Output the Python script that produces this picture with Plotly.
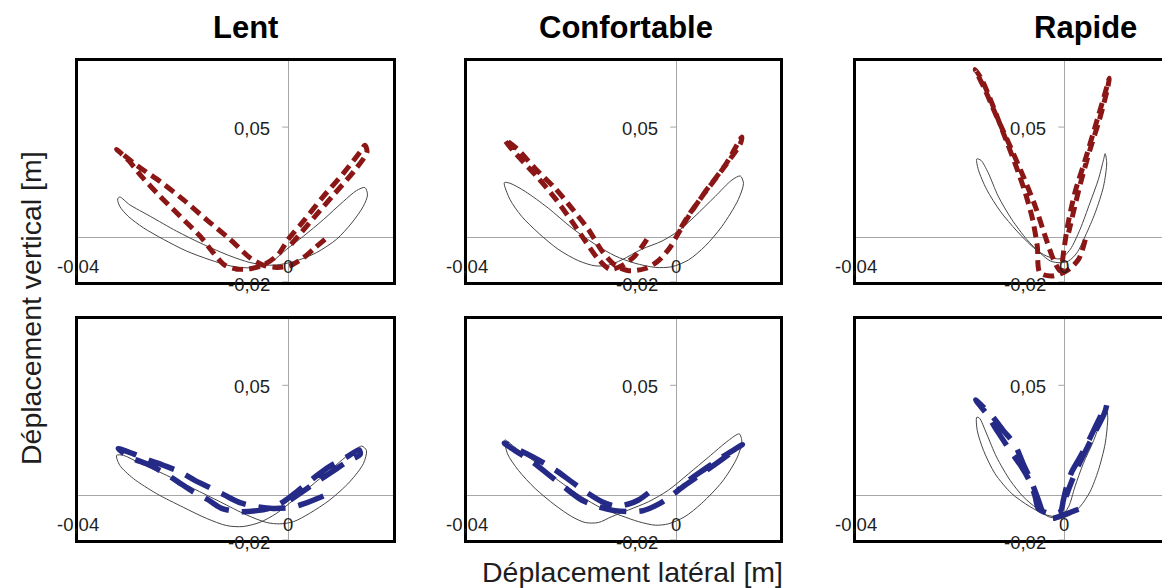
import plotly.graph_objects as go

# ---------------- data (metres) ----------------
col_titles = ["Lent", "Confortable", "Rapide"]
x_tick_labels = ["-0,04", "0"]
x_tick_vals = [-0.04, 0.0]
y_tick_labels = ["0,05", "-0,02"]
y_tick_vals = [0.05, -0.02]

# reference loops (thin black)
ref_lent_top_x = [-0.0325,-0.0321,-0.0305,-0.0276,-0.0238,-0.0194,-0.0149,-0.0111,-0.0079,-0.0051,-0.0029,-0.0003,0.0029,0.0067,0.0105,0.0130,0.0146,0.0151,0.0143,0.0121,0.0092,0.0054,0.0016,-0.0016,-0.0041,-0.0073,-0.0111,-0.0162,-0.0213,-0.0263,-0.0302,-0.0321,-0.0325]
ref_lent_top_y = [0.0175,0.0142,0.0097,0.0045,-0.0007,-0.0060,-0.0100,-0.0127,-0.0136,-0.0131,-0.0104,-0.0052,0.0007,0.0082,0.0164,0.0213,0.0227,0.0194,0.0142,0.0067,-0.0007,-0.0067,-0.0104,-0.0121,-0.0124,-0.0112,-0.0082,-0.0030,0.0030,0.0097,0.0149,0.0184,0.0175]

ref_conf_top_x = [-0.0329,-0.0318,-0.0296,-0.0264,-0.0226,-0.0187,-0.0155,-0.0130,-0.0104,-0.0066,-0.0027,0.0004,0.0036,0.0075,0.0107,0.0123,0.0129,0.0119,0.0088,0.0056,0.0024,-0.0008,-0.0040,-0.0079,-0.0117,-0.0155,-0.0200,-0.0245,-0.0289,-0.0318,-0.0329]
ref_conf_top_y = [0.0249,0.0172,0.0097,0.0022,-0.0052,-0.0104,-0.0127,-0.0124,-0.0100,-0.0052,-0.0015,0.0030,0.0097,0.0187,0.0261,0.0279,0.0246,0.0172,0.0052,-0.0037,-0.0100,-0.0131,-0.0134,-0.0115,-0.0082,-0.0030,0.0045,0.0134,0.0209,0.0246,0.0249]

ref_rap_top_x = [-0.0168,-0.0165,-0.0149,-0.0123,-0.0091,-0.0059,-0.0034,-0.0008,0.0011,0.0030,0.0049,0.0065,0.0075,0.0078,0.0081,0.0075,0.0059,0.0040,0.0024,0.0008,-0.0008,-0.0027,-0.0047,-0.0072,-0.0101,-0.0127,-0.0146,-0.0160,-0.0168]
ref_rap_top_y = [0.0356,0.0308,0.0218,0.0120,0.0030,-0.0045,-0.0083,-0.0095,-0.0053,0.0038,0.0158,0.0263,0.0353,0.0380,0.0338,0.0233,0.0113,0.0008,-0.0068,-0.0105,-0.0113,-0.0105,-0.0068,-0.0008,0.0083,0.0188,0.0293,0.0350,0.0356]

ref_lent_bot_x = [-0.0327,-0.0321,-0.0295,-0.0251,-0.0200,-0.0156,-0.0117,-0.0086,-0.0054,-0.0022,0.0010,0.0041,0.0079,0.0117,0.0140,0.0149,0.0143,0.0117,0.0079,0.0041,0.0010,-0.0016,-0.0041,-0.0079,-0.0130,-0.0181,-0.0232,-0.0283,-0.0314,-0.0327]
ref_lent_bot_y = [0.0183,0.0138,0.0078,0.0010,-0.0052,-0.0102,-0.0135,-0.0139,-0.0120,-0.0079,-0.0019,0.0040,0.0115,0.0190,0.0225,0.0205,0.0145,0.0063,-0.0019,-0.0079,-0.0117,-0.0127,-0.0121,-0.0087,-0.0027,0.0033,0.0093,0.0148,0.0183,0.0183]

ref_conf_bot_x = [-0.0328,-0.0323,-0.0302,-0.0270,-0.0232,-0.0200,-0.0174,-0.0149,-0.0123,-0.0091,-0.0053,-0.0015,0.0024,0.0062,0.0100,0.0121,0.0126,0.0116,0.0088,0.0049,0.0017,-0.0015,-0.0040,-0.0072,-0.0104,-0.0142,-0.0181,-0.0226,-0.0270,-0.0309,-0.0325,-0.0328]
ref_conf_bot_y = [0.0253,0.0190,0.0115,0.0033,-0.0042,-0.0094,-0.0121,-0.0121,-0.0094,-0.0064,-0.0027,0.0025,0.0100,0.0175,0.0250,0.0280,0.0243,0.0168,0.0063,-0.0034,-0.0094,-0.0127,-0.0133,-0.0117,-0.0091,-0.0057,-0.0004,0.0070,0.0153,0.0220,0.0250,0.0253]

ref_rap_bot_x = [-0.0168,-0.0167,-0.0155,-0.0133,-0.0101,-0.0066,-0.0034,-0.0008,0.0008,0.0020,0.0036,0.0056,0.0072,0.0080,0.0083,0.0078,0.0065,0.0049,0.0030,0.0011,-0.0008,-0.0031,-0.0053,-0.0079,-0.0104,-0.0130,-0.0149,-0.0163,-0.0168]
ref_rap_bot_y = [0.0355,0.0295,0.0205,0.0100,0.0010,-0.0049,-0.0087,-0.0094,-0.0049,0.0040,0.0145,0.0250,0.0355,0.0407,0.0355,0.0235,0.0115,0.0018,-0.0049,-0.0087,-0.0102,-0.0094,-0.0057,-0.0004,0.0070,0.0175,0.0280,0.0352,0.0355]

# condition trajectories, top row (dark red, short dashes)
lent_top_x = [0.0070,0.0051,0.0029,0.0003,-0.0022,-0.0048,-0.0073,-0.0111,-0.0156,-0.0200,-0.0244,-0.0289,-0.0321,-0.0327,-0.0305,-0.0279,-0.0244,-0.0206,-0.0168,-0.0143,-0.0121,-0.0098,-0.0070,-0.0044,-0.0019,0.0000,0.0029,0.0067,0.0105,0.0137,0.0146,0.0150,0.0127,0.0089,0.0051,0.0019,0.0003]
lent_top_y = [-0.0007,-0.0045,-0.0090,-0.0127,-0.0134,-0.0124,-0.0090,-0.0007,0.0082,0.0172,0.0254,0.0328,0.0388,0.0399,0.0351,0.0276,0.0187,0.0097,0.0007,-0.0067,-0.0124,-0.0142,-0.0139,-0.0119,-0.0075,-0.0007,0.0075,0.0187,0.0291,0.0388,0.0418,0.0388,0.0306,0.0201,0.0097,0.0007,-0.0037]

conf_top_x = [-0.0056,-0.0079,-0.0104,-0.0127,-0.0149,-0.0174,-0.0200,-0.0232,-0.0264,-0.0296,-0.0321,-0.0328,-0.0305,-0.0270,-0.0232,-0.0200,-0.0168,-0.0142,-0.0117,-0.0091,-0.0059,-0.0034,-0.0012,0.0003,0.0024,0.0056,0.0094,0.0126,0.0123,0.0088,0.0052,0.0027,0.0011,0.0001]
conf_top_y = [-0.0007,-0.0082,-0.0127,-0.0142,-0.0097,-0.0015,0.0075,0.0179,0.0269,0.0351,0.0418,0.0443,0.0403,0.0313,0.0224,0.0134,0.0037,-0.0060,-0.0124,-0.0149,-0.0139,-0.0104,-0.0045,0.0015,0.0097,0.0209,0.0328,0.0455,0.0425,0.0306,0.0194,0.0112,0.0052,0.0007]

rap_top_x = [0.0040,0.0027,0.0004,-0.0024,-0.0047,-0.0052,-0.0061,-0.0075,-0.0095,-0.0117,-0.0139,-0.0158,-0.0171,-0.0152,-0.0130,-0.0104,-0.0079,-0.0056,-0.0037,-0.0021,-0.0008,-0.0001,0.0006,0.0020,0.0040,0.0059,0.0076,0.0086,0.0082,0.0067,0.0049,0.0031,0.0017,0.0008]
rap_top_y = [-0.0008,-0.0098,-0.0150,-0.0173,-0.0158,-0.0038,0.0083,0.0203,0.0338,0.0473,0.0608,0.0713,0.0761,0.0668,0.0548,0.0413,0.0278,0.0143,0.0008,-0.0098,-0.0150,-0.0053,0.0053,0.0203,0.0353,0.0503,0.0638,0.0721,0.0668,0.0533,0.0398,0.0248,0.0113,0.0023]

# condition trajectories, bottom row (navy, long dashes)
lent_bot_x = [0.0067,0.0029,0.0006,-0.0029,-0.0060,-0.0092,-0.0121,-0.0149,-0.0178,-0.0206,-0.0238,-0.0267,-0.0295,-0.0324,-0.0302,-0.0263,-0.0232,-0.0210,-0.0181,-0.0152,-0.0127,-0.0092,-0.0060,-0.0029,-0.0006,0.0016,0.0051,0.0079,0.0111,0.0135,0.0137,0.0111,0.0083,0.0054,0.0029,0.0004]
lent_bot_y = [-0.0001,-0.0037,-0.0052,-0.0057,-0.0049,-0.0031,0.0003,0.0037,0.0070,0.0108,0.0138,0.0163,0.0190,0.0213,0.0175,0.0138,0.0097,0.0063,0.0018,-0.0019,-0.0057,-0.0072,-0.0067,-0.0052,-0.0022,0.0018,0.0085,0.0133,0.0175,0.0208,0.0187,0.0153,0.0108,0.0063,0.0022,-0.0019]

conf_bot_x = [-0.0053,-0.0072,-0.0091,-0.0117,-0.0142,-0.0168,-0.0200,-0.0232,-0.0264,-0.0296,-0.0329,-0.0309,-0.0277,-0.0245,-0.0213,-0.0181,-0.0149,-0.0117,-0.0085,-0.0063,-0.0031,-0.0008,0.0017,0.0049,0.0081,0.0107,0.0127,0.0119,0.0088,0.0056,0.0024,0.0001]
conf_bot_y = [0.0013,-0.0019,-0.0037,-0.0046,-0.0027,0.0010,0.0063,0.0118,0.0163,0.0202,0.0238,0.0205,0.0157,0.0097,0.0037,-0.0019,-0.0049,-0.0067,-0.0072,-0.0067,-0.0034,0.0003,0.0048,0.0100,0.0153,0.0198,0.0232,0.0220,0.0175,0.0123,0.0070,0.0018]

rap_bot_x = [0.0027,0.0001,-0.0024,-0.0040,-0.0050,-0.0063,-0.0079,-0.0095,-0.0117,-0.0139,-0.0158,-0.0170,-0.0149,-0.0127,-0.0104,-0.0082,-0.0066,-0.0056,-0.0050,-0.0031,-0.0008,-0.0002,0.0004,0.0014,0.0030,0.0048,0.0065,0.0081,0.0076,0.0060,0.0041,0.0024,0.0011,0.0003]
rap_bot_y = [-0.0061,-0.0084,-0.0102,-0.0079,-0.0019,0.0063,0.0145,0.0232,0.0295,0.0362,0.0407,0.0434,0.0370,0.0287,0.0205,0.0130,0.0063,-0.0004,-0.0057,-0.0079,-0.0072,-0.0019,0.0040,0.0108,0.0175,0.0257,0.0340,0.0412,0.0370,0.0295,0.0205,0.0123,0.0048,-0.0004]

# ---------------- layout ----------------
W, H = 1162, 588
FONT = "Liberation Sans, Arial, sans-serif"
RED = "rgb(139,22,22)"
BLUE = "rgb(38,42,135)"
REFC = "rgb(70,70,70)"

col_px = [(78.3, 392.7), (467.3, 780.0), (855.7, 1162.0)]
row_px = [(60.7, 282.0), (319.0, 540.0)]
x_ranges = [[-0.04, 0.0199], [-0.04, 0.0199], [-0.04, 0.0187]]
y_range = [-0.02, 0.08]

panels = [
    (ref_lent_top_x, ref_lent_top_y, lent_top_x, lent_top_y),
    (ref_conf_top_x, ref_conf_top_y, conf_top_x, conf_top_y),
    (ref_rap_top_x, ref_rap_top_y, rap_top_x, rap_top_y),
    (ref_lent_bot_x, ref_lent_bot_y, lent_bot_x, lent_bot_y),
    (ref_conf_bot_x, ref_conf_bot_y, conf_bot_x, conf_bot_y),
    (ref_rap_bot_x, ref_rap_bot_y, rap_bot_x, rap_bot_y),
]

fig = go.Figure()
annotations = []
shapes = []
layout_axes = {}

for k, (rx, ry, cx, cy) in enumerate(panels):
    r, c = divmod(k, 3)
    sfx = "" if k == 0 else str(k + 1)
    xa, ya = "x" + sfx, "y" + sfx
    top = r == 0
    fig.add_trace(go.Scatter(x=rx, y=ry, xaxis=xa, yaxis=ya, mode="lines",
                             line=dict(color=REFC, width=1, shape="spline", smoothing=0.8),
                             showlegend=False, hoverinfo="skip"))
    fig.add_trace(go.Scatter(x=cx, y=cy, xaxis=xa, yaxis=ya, mode="lines",
                             line=dict(color=RED if top else BLUE, width=5 if top else 5.5,
                                       dash="11px,6px" if top else "27px,13px",
                                       shape="spline", smoothing=0.8),
                             showlegend=False, hoverinfo="skip"))
    x0p, x1p = col_px[c]
    y0p, y1p = row_px[r]
    last_col = c == 2
    layout_axes["xaxis" + sfx] = dict(
        domain=[x0p / W, x1p / W], anchor=ya, range=x_ranges[c],
        showgrid=False, showticklabels=False, ticks="",
        zeroline=True, zerolinecolor="#a6a6a6", zerolinewidth=1,
        showline=True, mirror=True, linecolor="black", linewidth=3)
    layout_axes["yaxis" + sfx] = dict(
        domain=[1 - y1p / H, 1 - y0p / H], anchor=xa, range=y_range,
        showgrid=False, showticklabels=False, ticks="",
        zeroline=True, zerolinecolor="#a6a6a6", zerolinewidth=1,
        showline=True, mirror=not last_col, linecolor="black", linewidth=3)

    tfont = dict(family=FONT, size=18.5, color="#1e1e1e")
    # y tick labels next to the vertical zero axis
    for val, lab in zip(y_tick_vals, y_tick_labels):
        annotations.append(dict(x=0, y=val, xref=xa, yref=ya, text=lab, showarrow=False,
                                xanchor="right", yanchor="middle", xshift=-16,
                                yshift=-2 if val < 0 else -1, font=tfont))
        shapes.append(dict(type="line", xref=xa, yref=ya, xsizemode="pixel", xanchor=0,
                           x0=-6, x1=0, y0=val, y1=val, line=dict(color="#a6a6a6", width=1)))
    # x tick labels below the horizontal zero axis
    for val, lab in zip(x_tick_vals, x_tick_labels):
        annotations.append(dict(x=val, y=0, xref=xa, yref=ya, text=lab, showarrow=False,
                                xanchor="center", yanchor="middle", yshift=-29, font=tfont))

# column titles
title_x = [245, 626, 1085]
for t, xp in zip(col_titles, title_x):
    annotations.append(dict(x=xp / W, y=1 - 27.5 / H, xref="paper", yref="paper", text="<b>" + t + "</b>",
                            showarrow=False, xanchor="center", yanchor="middle",
                            font=dict(family=FONT, size=31, color="black")))

annotations.append(dict(x=31 / W, y=1 - 308 / H, xref="paper", yref="paper",
                        text="Déplacement vertical [m]", textangle=-90, showarrow=False,
                        xanchor="center", yanchor="middle",
                        font=dict(family=FONT, size=28.5, color="#1e1e1e")))
annotations.append(dict(x=632 / W, y=1 - 572 / H, xref="paper", yref="paper",
                        text="Déplacement latéral [m]", showarrow=False,
                        xanchor="center", yanchor="middle",
                        font=dict(family=FONT, size=28.5, color="#1e1e1e")))

fig.update_layout(width=W, height=H, margin=dict(l=0, r=0, t=0, b=0),
                  paper_bgcolor="white", plot_bgcolor="white",
                  annotations=annotations, shapes=shapes, **layout_axes)

# remove the browser's default 8px page margin so the figure sits at the window origin
fig.write_html("out.html", config={"displayModeBar": False},
               post_script="document.body.style.margin='0px';document.body.style.overflow='hidden';")
